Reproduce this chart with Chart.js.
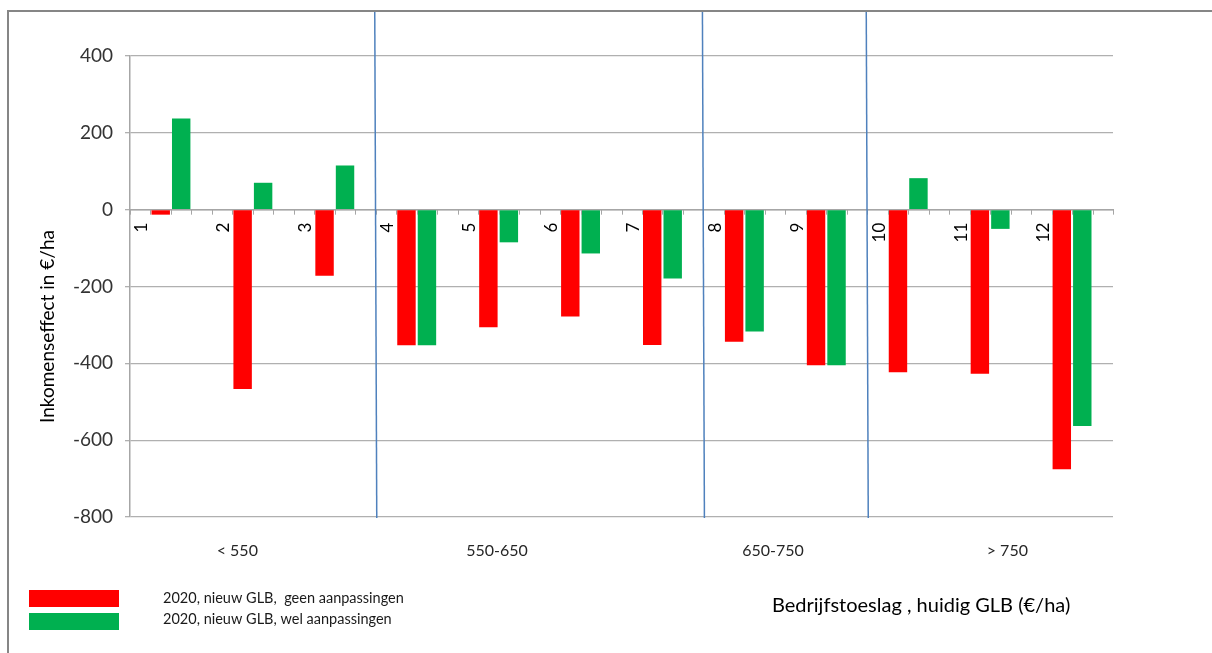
<!DOCTYPE html>
<html>
<head>
<meta charset="utf-8">
<script src="https://cdn.jsdelivr.net/npm/chart.js@4"></script>
<style>
  body { margin: 0; background: #fff; }
  canvas { display: block; }
</style>
</head>
<body>
<canvas id="chartGLB" width="1212" height="653"></canvas>
<script>
const categorieen = ['1', '2', '3', '4', '5', '6', '7', '8', '9', '10', '11', '12'];
const geenAanpassingen = [-13, -467, -172, -353, -306, -278, -352, -344, -405, -423, -427, -676];
const welAanpassingen = [237, 70, 115, -353, -85, -114, -179, -317, -405, 82, -50, -563];
const groepen = ['< 550', '550-650', '650-750', '> 750'];
const groepGrenzen = [2, 6, 8];          // scheiding na deze categorie (index)
const groepLabelPos = [0.81, 3.98, 7.35, 10.21];
const yTicks = [400, 200, 0, -200, -400, -600, -800];

const font = 'Lato, "Liberation Sans", sans-serif';

const extras = {
  id: 'extras',
  afterDraw(chart) {
    const c = chart.ctx;
    const x = chart.scales.x;
    const y = chart.scales.y;
    const area = chart.chartArea;
    const w = x.getPixelForValue(1) - x.getPixelForValue(0);
    const start = x.getPixelForValue(0) - w / 2;
    const y0 = y.getPixelForValue(0);
    c.save();

    // kleine streepjes onder de as
    c.strokeStyle = '#a6a6a6';
    c.lineWidth = 1;
    c.beginPath();
    for (let i = 0; i <= categorieen.length * 4; i++) {
      const px = Math.round(start + i * w / 4) + 0.5;
      c.moveTo(px, y0);
      c.lineTo(px, y0 + 5);
    }
    c.stroke();

    // blauwe scheidingslijnen
    c.strokeStyle = '#4f81bd';
    c.lineWidth = 1.5;
    groepGrenzen.forEach(i => {
      const px = (x.getPixelForValue(i) + x.getPixelForValue(i + 1)) / 2;
      c.beginPath();
      c.moveTo(px - 1, 11);
      c.lineTo(px + 1, area.bottom + 1);
      c.stroke();
    });

    // groepslabels
    c.fillStyle = '#262626';
    c.font = '16px ' + font;
    c.textAlign = 'center';
    c.textBaseline = 'middle';
    groepen.forEach((g, i) => {
      c.fillText(g, start + (groepLabelPos[i] + 0.5) * w, 551);
    });

    // y-as titel
    c.save();
    c.translate(48, (area.top + area.bottom) / 2 + 40);
    c.rotate(-Math.PI / 2);
    c.font = '19px ' + font;
    c.fillStyle = '#000';
    c.fillText('Inkomenseffect in €/ha', 0, 0);
    c.restore();

    // x-as titel
    c.font = '20px ' + font;
    c.fillStyle = '#000';
    c.textAlign = 'left';
    c.fillText('Bedrijfstoeslag , huidig GLB (€/ha)', 772, 606);

    // legenda
    chart.data.datasets.forEach((ds, i) => {
      c.fillStyle = ds.backgroundColor;
      c.fillRect(29, 590 + i * 23, 90, 17);
      c.fillStyle = '#1a1a1a';
      c.font = '14.5px ' + font;
      c.fillText(ds.label, 163, 598 + i * 21);
    });

    // kader
    c.strokeStyle = '#868686';
    c.lineWidth = 2;
    c.beginPath();
    c.moveTo(8, 653);
    c.lineTo(8, 11);
    c.lineTo(1212, 11);
    c.stroke();
    c.restore();
  }
};

new Chart(document.getElementById('chartGLB'), {
  type: 'bar',
  data: {
    labels: categorieen,
    datasets: [{
      label: '2020, nieuw GLB,  geen aanpassingen',
      data: geenAanpassingen,
      backgroundColor: '#ff0000',
      categoryPercentage: 0.5,
      barPercentage: 0.9
    }, {
      label: '2020, nieuw GLB, wel aanpassingen',
      data: welAanpassingen,
      backgroundColor: '#00b050',
      categoryPercentage: 0.5,
      barPercentage: 0.9
    }]
  },
  options: {
    responsive: false,
    animation: false,
    devicePixelRatio: 1,
    layout: { padding: { left: 0, top: 56, right: 99, bottom: 136 } },
    plugins: { legend: { display: false }, tooltip: { enabled: false } },
    scales: {
      x: {
        position: { y: 0 },
        grid: { display: false, drawTicks: false },
        border: { color: '#a6a6a6', width: 1.5 },
        ticks: {
          autoSkip: false,
          minRotation: 90,
          maxRotation: 90,
          labelOffset: -29,
          padding: 13,
          color: '#000',
          font: { family: font, size: 17 }
        }
      },
      y: {
        min: -800,
        max: 400,
        afterFit(scale) { scale.width = 130; },
        afterBuildTicks(scale) { scale.ticks = yTicks.map(v => ({ value: v })); },
        grid: { color: '#b0b0b0', lineWidth: 1.3, tickLength: 5 },
        border: { color: '#a6a6a6', width: 1.5 },
        ticks: {
          padding: 12,
          color: '#333',
          font: { family: font, size: 19 }
        }
      }
    }
  },
  plugins: [extras]
});
</script>
</body>
</html>
